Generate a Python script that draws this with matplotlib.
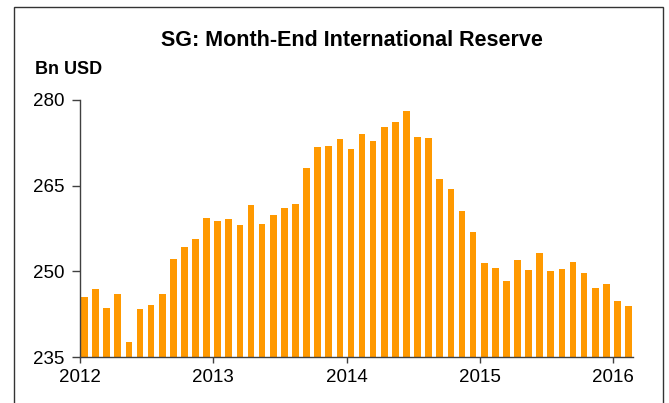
import numpy as np
import matplotlib.pyplot as plt
from matplotlib.patches import Rectangle

plt.rcParams['font.family'] = ['Liberation Sans', 'DejaVu Sans']

# Month-end international reserves, Jan 2012 .. Feb 2016 (Bn USD)
reserves = [245.5, 246.9, 243.6, 246.1, 237.7, 243.4, 244.1, 246.1, 252.1, 254.2, 255.7, 259.4,
            258.8, 259.1, 258.1, 261.6, 258.3, 259.8, 261.1, 261.8, 268.1, 271.8, 271.9, 273.1,
            271.5, 274.0, 272.9, 275.2, 276.1, 278.0, 273.6, 273.3, 266.1, 264.4, 260.5, 256.9,
            251.4, 250.6, 248.3, 251.9, 250.2, 253.2, 250.1, 250.4, 251.6, 249.7, 247.1, 247.7,
            244.8, 244.0]
year_labels = ['2012', '2013', '2014', '2015', '2016']
y_ticks = [235, 250, 265, 280]

fig = plt.figure(figsize=(6.69, 4.03), dpi=100)

# outer frame around the chart
fig.patches.append(Rectangle((14 / 669, -0.05), (663 - 14) / 669, 1 - 7 / 403 + 0.05,
                             transform=fig.transFigure, fill=False,
                             edgecolor='#333333', linewidth=1.0))

ax = fig.add_axes([80 / 669, 1 - 357 / 403, (633 - 80) / 669, (357 - 100) / 403])

months = np.arange(len(reserves)) + 0.4
ax.bar(months, np.array(reserves) - 235, bottom=235, width=0.6,
       color='#FF9900', edgecolor='none')

ax.set_xlim(0, 49.8)
ax.set_ylim(235, 280)
ax.set_xticks([0, 12, 24, 36, 48])
ax.set_xticklabels(year_labels)
ax.set_yticks(y_ticks)

for s in ['top', 'right']:
    ax.spines[s].set_visible(False)
for s in ['left', 'bottom']:
    ax.spines[s].set_color('#404040')
    ax.spines[s].set_linewidth(1.0)
ax.tick_params(axis='both', colors='#404040', labelcolor='black', labelsize=13.5,
               width=1.0, direction='out')
ax.tick_params(axis='y', length=5.5, pad=6)
ax.tick_params(axis='x', length=4, pad=5)

fig.text(352 / 669, 1 - 40 / 403, 'SG: Month-End International Reserve',
         ha='center', va='center', fontsize=15.5, fontweight='bold')
fig.text(35 / 669, 1 - 69 / 403, 'Bn USD', ha='left', va='center',
         fontsize=13, fontweight='bold')

fig.savefig('out.png', dpi=100)
